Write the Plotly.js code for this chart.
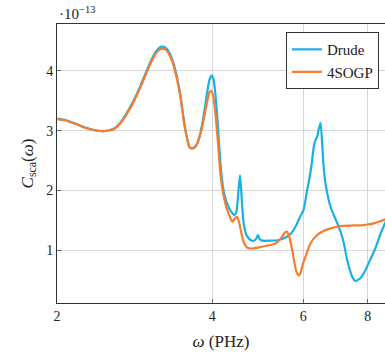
<!DOCTYPE html>
<html>
<head>
<meta charset="utf-8">
<script src="https://cdn.plot.ly/plotly-3.0.1.min.js"></script>
<style>
html,body{margin:0;padding:0;background:#fff;overflow:hidden;}
#chart{width:385px;height:355px;}
</style>
</head>
<body>
<div id="chart"></div>
<script>
// Frequency omega (PHz) and scattering cross-section (units of 1e-13)
const drudeX = [2.004,2.077,2.172,2.271,2.375,2.461,2.539,2.597,2.655,2.715,2.776,2.839,2.903,2.969,3.036,3.104,3.160,3.203,3.246,3.289,3.349,3.409,3.470,3.533,3.580,3.613,3.661,3.711,3.761,3.811,3.863,3.915,3.950,3.985,4.021,4.057,4.093,4.130,4.167,4.223,4.299,4.377,4.416,4.456,4.496,4.526,4.556,4.597,4.659,4.743,4.828,4.872,4.904,4.937,5.004,5.186,5.374,5.545,5.670,5.798,5.928,6.008,6.108,6.171,6.227,6.291,6.339,6.387,6.424,6.482,6.525,6.569,6.628,6.778,6.983,7.087,7.192,7.302,7.467,7.578,7.749,7.923,8.102,8.285,8.472,8.663];
const drudeY = [3.203,3.178,3.119,3.052,3.005,2.993,3.010,3.052,3.136,3.261,3.404,3.568,3.755,3.960,4.157,4.317,4.392,4.409,4.392,4.333,4.183,3.931,3.580,3.094,2.843,2.717,2.700,2.734,2.843,3.044,3.345,3.680,3.856,3.923,3.864,3.596,3.178,2.675,2.256,1.921,1.720,1.611,1.586,1.653,2.005,2.256,1.921,1.469,1.251,1.168,1.159,1.201,1.251,1.184,1.156,1.156,1.168,1.209,1.268,1.390,1.570,1.670,2.005,2.206,2.424,2.730,2.843,2.898,3.010,3.132,2.843,2.424,2.117,1.725,1.452,1.307,1.117,0.832,0.553,0.481,0.531,0.665,0.849,1.034,1.268,1.469];

const sogpX = [2.004,2.077,2.172,2.271,2.375,2.461,2.539,2.597,2.655,2.715,2.776,2.839,2.903,2.969,3.036,3.104,3.160,3.203,3.246,3.289,3.349,3.409,3.470,3.533,3.580,3.613,3.661,3.711,3.761,3.811,3.863,3.915,3.950,3.976,4.003,4.039,4.075,4.112,4.149,4.204,4.261,4.319,4.371,4.416,4.466,4.506,4.570,4.618,4.680,4.785,4.915,5.071,5.232,5.350,5.464,5.520,5.582,5.632,5.713,5.772,5.824,5.884,5.928,5.982,6.062,6.199,6.387,6.540,6.778,7.087,7.410,7.749,7.994,8.222,8.434,8.663];
const sogpY = [3.194,3.169,3.111,3.044,3.002,2.993,3.010,3.044,3.127,3.245,3.379,3.546,3.730,3.931,4.124,4.283,4.358,4.375,4.358,4.300,4.149,3.898,3.563,3.094,2.843,2.725,2.709,2.742,2.843,3.010,3.261,3.513,3.647,3.668,3.630,3.429,3.094,2.675,2.256,1.921,1.704,1.570,1.474,1.519,1.558,1.469,1.223,1.101,1.039,1.025,1.042,1.067,1.092,1.134,1.223,1.285,1.307,1.235,1.000,0.782,0.631,0.573,0.615,0.749,0.888,1.112,1.251,1.310,1.363,1.402,1.410,1.414,1.427,1.447,1.477,1.514];

const xTicks = [2,4,6,8];
const xTickText = ['2','4','6','8'];
const yTicks = [1,2,3,4];
const yTickText = ['1','2','3','4'];

const FONT = '"Liberation Serif", "DejaVu Serif", serif';

const traces = [
  {x: drudeX, y: drudeY, name: 'Drude', type: 'scatter', mode: 'lines',
   line: {color: '#19b0e6', width: 2.2, shape: 'spline', smoothing: 0.6}},
  {x: sogpX, y: sogpY, name: '4SOGP', type: 'scatter', mode: 'lines',
   line: {color: '#f97c2c', width: 2.2, shape: 'spline', smoothing: 0.6}}
];

const layout = {
  width: 385, height: 355,
  margin: {l: 57, r: 0, t: 24, b: 52, pad: 0},
  paper_bgcolor: '#fff', plot_bgcolor: '#fff',
  font: {family: FONT, size: 14, color: '#222'},
  showlegend: true,
  legend: {x: 0.698, y: 0.971, xanchor: 'left', yanchor: 'top',
    bordercolor: '#333', borderwidth: 1, bgcolor: '#fff',
    font: {family: FONT, size: 15, color: '#222'},
    itemwidth: 30, tracegroupgap: 0},
  xaxis: {
    type: 'log', range: [Math.log10(2), 0.93669],
    tickvals: xTicks, ticktext: xTickText,
    showgrid: true, gridcolor: '#d6d6d6', gridwidth: 1,
    showline: true, linecolor: '#333', linewidth: 1, mirror: true,
    ticks: 'inside', ticklen: 4, tickcolor: '#666',
    zeroline: false,
    tickfont: {family: FONT, size: 14, color: '#222'},
    title: {text: '<i>ω</i> (PHz)', standoff: 12, font: {family: FONT, size: 17, color: '#222'}}
  },
  yaxis: {
    range: [0.112, 4.787],
    tickvals: yTicks, ticktext: yTickText,
    showgrid: true, gridcolor: '#d6d6d6', gridwidth: 1,
    showline: true, linecolor: '#333', linewidth: 1, mirror: false,
    ticks: 'inside', ticklen: 4, tickcolor: '#666',
    zeroline: false,
    tickfont: {family: FONT, size: 14, color: '#222'},
    title: {text: '<i>C</i><sub>sca</sub>(<i>ω</i>)', standoff: 8, font: {family: FONT, size: 17, color: '#222'}}
  },
  annotations: [{
    xref: 'paper', yref: 'paper', x: 0, y: 1, xanchor: 'left', yanchor: 'bottom',
    text: '·10<sup>−13</sup>', showarrow: false, yshift: 0,
    font: {family: FONT, size: 15, color: '#222'}
  }]
};

Plotly.newPlot('chart', traces, layout, {displayModeBar: false, staticPlot: true});
</script>
</body>
</html>
